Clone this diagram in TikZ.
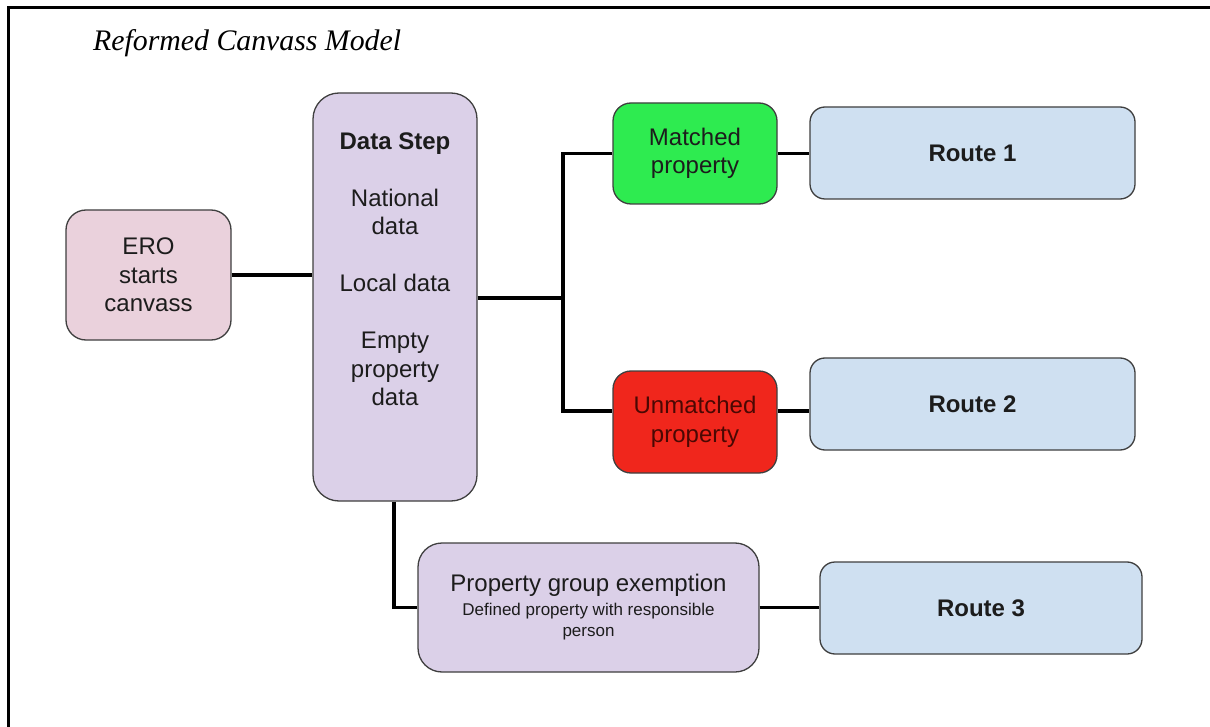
\documentclass[tikz,border=0pt]{standalone}
\usepackage{fontspec}
\setmainfont{Liberation Sans}
\newfontfamily\titlefont{Liberation Serif}
\usetikzlibrary{calc}
\definecolor{boxline}{HTML}{3F3F3F}
\definecolor{erofill}{HTML}{EAD1DC}
\definecolor{stepfill}{HTML}{DBD0E8}
\definecolor{matchfill}{HTML}{2EEB50}
\definecolor{unmatchfill}{HTML}{F0261C}
\definecolor{routefill}{HTML}{CFE0F1}
\definecolor{inktext}{HTML}{1C1C1C}
\definecolor{unmatchtext}{HTML}{4A0803}
\begin{document}
\begin{tikzpicture}[x=1pt,y=-1pt,
  card/.style={draw=boxline, line width=1.3pt, rectangle, inner sep=0pt,
    align=center, text=inktext, font=\fontsize{24}{28.5}\selectfont},
  routecard/.style={card, fill=routefill, rounded corners=15pt,
    minimum width=325pt, minimum height=92pt, font=\bfseries\fontsize{24}{28.5}\selectfont},
  conn/.style={draw=black, line width=3.8pt},
]
\useasboundingbox (0,0) rectangle (1210,727);
\fill[white] (0,0) rectangle (1210,727);
% frame
\draw[line width=3pt] (8.5,727) -- (8.5,8) -- (1210,8);

% title
\node[anchor=base west, inner sep=0pt, font=\titlefont\itshape\fontsize{29.8}{34}\selectfont]
  (title) at (93,51) {Reformed Canvass Model};

% boxes
\node[card, fill=erofill, rounded corners=20pt, minimum width=165pt, minimum height=130pt]
  (ero) at (148.5,275) {ERO\\starts\\canvass};
\node[card, fill=stepfill, rounded corners=26pt, minimum width=164pt, minimum height=408pt]
  (ds) at (395,297) {};
\node[align=center, inner sep=0pt, text=inktext, font=\fontsize{24}{28.5}\selectfont]
  (dstext) at (395,269) {\textbf{Data Step}\\[28.5pt]National\\data\\[28.5pt]Local data\\[28.5pt]Empty\\property\\data};
\node[card, fill=matchfill, rounded corners=18pt, minimum width=164pt, minimum height=101pt]
  (mt) at (695,153.5) {Matched\\property};
\node[card, fill=unmatchfill, text=unmatchtext, rounded corners=18pt, minimum width=164pt, minimum height=102pt]
  (um) at (695,422) {Unmatched\\property};
\node[routecard] (r1) at (972.5,153) {Route 1};
\node[routecard] (r2) at (972.5,404) {Route 2};
\node[routecard, minimum width=322pt] (r3) at (981,608) {Route 3};
\node[card, fill=stepfill, rounded corners=24pt, minimum width=341pt, minimum height=129pt,
  font=\fontsize{17}{21}\selectfont]
  (pg) at (588.5,607.5) {{\fontsize{24}{24}\selectfont Property group exemption}\\[3pt]Defined property with responsible\\person};

% connectors
\coordinate (jn) at (563,298);
\coordinate (jlo) at (563,411);
\coordinate (pk) at (394,607.5);
\draw[conn] (ero.east) -- (ero.east -| ds.west);
\draw[conn] (ds.east |- jn) -- (jn);
\draw[conn] (mt.west) -- (mt.west -| jn) -- (jlo) -- (jlo -| um.west);
\draw[conn] (mt.east) -- (mt.east -| r1.west);
\draw[conn] (um.east |- jlo) -- (jlo -| r2.west);
\draw[conn] (ds.south -| pk) -- (pk) -- (pg.west);
\draw[conn] (pg.east) -- (pg.east -| r3.west);
\end{tikzpicture}
\end{document}
